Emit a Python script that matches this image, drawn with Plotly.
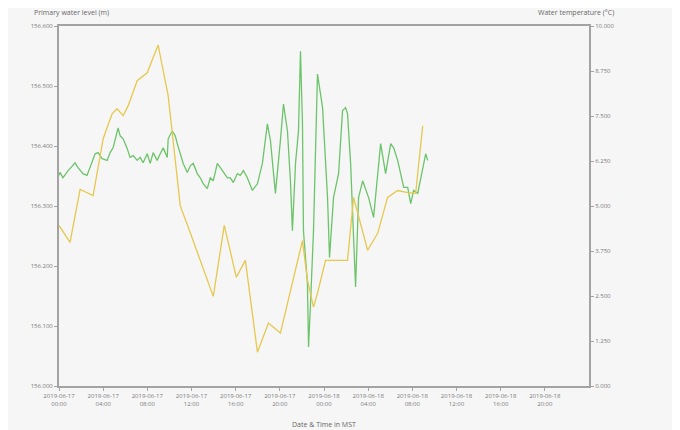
import pandas as pd
import plotly.graph_objects as go

START = pd.Timestamp("2019-06-17 00:00")

# Primary water level (m): hours since start, values
level_hours = [0.00, 0.09, 0.36, 0.82, 1.18, 1.45, 1.72, 2.18, 2.54, 2.81, 3.27, 3.54, 3.90, 4.36,
               4.63, 4.90, 5.26, 5.35, 5.54, 5.81, 6.17, 6.44, 6.72, 7.08, 7.35, 7.62, 7.99, 8.26,
               8.53, 8.89, 9.17, 9.44, 9.80, 9.89, 10.25, 10.53, 10.71, 10.98, 11.25, 11.62, 11.89,
               12.16, 12.52, 12.79, 13.07, 13.43, 13.70, 13.97, 14.34, 14.61, 14.88, 15.25, 15.52,
               15.79, 16.15, 16.42, 16.70, 17.06, 17.51, 17.97, 18.42, 18.87, 19.15, 19.60, 20.05,
               20.33, 20.69, 20.96, 21.14, 21.42, 21.69, 21.87, 22.05, 22.14, 22.50, 22.60, 22.78,
               23.05, 23.41, 23.87, 24.32, 24.50, 24.86, 25.32, 25.68, 25.95, 26.13, 26.41, 26.86,
               27.13, 27.50, 28.04, 28.49, 29.13, 29.58, 30.04, 30.31, 30.67, 31.22, 31.58, 31.85,
               32.12, 32.49, 32.94, 33.21, 33.39]
level_values = [156.351, 156.356, 156.347, 156.359, 156.366, 156.372, 156.364, 156.354, 156.351,
                156.364, 156.387, 156.389, 156.379, 156.376, 156.389, 156.397, 156.425, 156.430,
                156.417, 156.412, 156.396, 156.381, 156.384, 156.376, 156.381, 156.372, 156.387,
                156.371, 156.389, 156.376, 156.387, 156.397, 156.381, 156.412, 156.425, 156.417,
                156.404, 156.389, 156.371, 156.356, 156.367, 156.371, 156.354, 156.347, 156.337,
                156.329, 156.347, 156.342, 156.371, 156.364, 156.356, 156.347, 156.347, 156.339,
                156.354, 156.351, 156.359, 156.347, 156.326, 156.337, 156.371, 156.437, 156.409,
                156.321, 156.409, 156.470, 156.425, 156.342, 156.259, 156.371, 156.425, 156.558,
                156.437, 156.259, 156.171, 156.065, 156.138, 156.259, 156.520, 156.464, 156.314,
                156.214, 156.314, 156.354, 156.459, 156.464, 156.454, 156.371, 156.165, 156.314,
                156.342, 156.314, 156.281, 156.404, 156.354, 156.404, 156.397, 156.376, 156.331,
                156.331, 156.304, 156.326, 156.321, 156.359, 156.387, 156.376]

# Water temperature (°C): hours since start, values
temp_hours = [0.00, 1.00, 1.91, 3.09, 4.00, 4.81, 5.26, 5.81, 6.26, 7.08, 7.99, 8.98, 9.89, 10.98,
              11.98, 12.98, 13.97, 14.97, 16.06, 16.88, 17.97, 18.97, 20.05, 22.05, 22.50, 23.05,
              23.41, 24.14, 26.13, 26.68, 27.95, 28.86, 29.76, 30.67, 31.58, 32.30, 32.94]
temp_values = [4.46, 3.99, 5.46, 5.29, 6.87, 7.56, 7.70, 7.51, 7.78, 8.48, 8.70, 9.47, 8.06, 5.01,
               4.18, 3.32, 2.49, 4.46, 3.02, 3.49, 0.94, 1.75, 1.47, 4.04, 2.94, 2.19, 2.58, 3.49,
               3.49, 5.24, 3.77, 4.24, 5.24, 5.43, 5.37, 5.35, 7.23]

x_tick_vals = ["2019-06-17 00:00", "2019-06-17 04:00", "2019-06-17 08:00", "2019-06-17 12:00",
               "2019-06-17 16:00", "2019-06-17 20:00", "2019-06-18 00:00", "2019-06-18 04:00",
               "2019-06-18 08:00", "2019-06-18 12:00", "2019-06-18 16:00", "2019-06-18 20:00"]
x_tick_text = [v.replace(" ", "<br>") for v in x_tick_vals]
level_ticks = [156.0, 156.1, 156.2, 156.3, 156.4, 156.5, 156.6]
temp_ticks = [0, 1.25, 2.5, 3.75, 5, 6.25, 7.5, 8.75, 10]

level_t = START + pd.to_timedelta(level_hours, unit="h")
temp_t = START + pd.to_timedelta(temp_hours, unit="h")

FONT = "Open Sans"
TICKC = "#7a7a7a"
AXC = "#a3a3a3"

fig = go.Figure()
fig.add_trace(go.Scatter(x=level_t, y=level_values, mode="lines",
                         line=dict(color="#6cc46a", width=1.3), yaxis="y", showlegend=False))
fig.add_trace(go.Scatter(x=temp_t, y=temp_values, mode="lines",
                         line=dict(color="#e6c84e", width=1.3), yaxis="y2", showlegend=False))

x_range = ["2019-06-17 00:00", "2019-06-19 00:00"]
fig.update_layout(
    width=680, height=430,
    margin=dict(l=51, r=99, t=18, b=52),
    paper_bgcolor="#f6f6f6", plot_bgcolor="#f6f6f6",
    font=dict(family=FONT, size=6, color=TICKC),
    xaxis=dict(range=x_range, tickvals=x_tick_vals, ticktext=x_tick_text,
               showgrid=False, zeroline=False, showline=True, linecolor=AXC, linewidth=2,
               mirror=True, ticks="outside", ticklen=3, tickcolor=AXC,
               tickfont=dict(size=6, color=TICKC)),
    xaxis2=dict(range=x_range, overlaying="x", type="date", dtick=8 * 3600000,
                tick0="2019-06-17 00:00", showgrid=True, gridcolor="#ffffff", gridwidth=1.5,
                showticklabels=False, showline=False, zeroline=False),
    yaxis=dict(range=[156.0, 156.6], tickvals=level_ticks, tickformat=".3f",
               showgrid=False, zeroline=False, showline=True, linecolor=AXC, linewidth=2,
               ticks="outside", ticklen=3, tickcolor=AXC, tickfont=dict(size=6, color=TICKC)),
    yaxis2=dict(range=[0, 10], tickvals=temp_ticks, tickformat=".3f", overlaying="y",
                side="right", showgrid=False, zeroline=False, showline=True, linecolor=AXC,
                linewidth=2, ticks="outside", ticklen=3, tickcolor=AXC,
                tickfont=dict(size=6, color=TICKC)),
    annotations=[
        dict(text="Primary water level (m)", xref="paper", yref="paper", x=-0.051, y=1.0,
             yshift=7, xanchor="left", yanchor="bottom", showarrow=False,
             font=dict(size=7, color="#666666")),
        dict(text="Water temperature (°C)", xref="paper", yref="paper", x=1.05, y=1.0,
             yshift=7, xanchor="right", yanchor="bottom", showarrow=False,
             font=dict(size=7, color="#666666")),
        dict(text="Date & Time in MST", xref="paper", yref="paper", x=0.5, y=0,
             yshift=-32, xanchor="center", yanchor="top", showarrow=False,
             font=dict(size=7, color="#666666")),
    ],
)
fig.write_html("out.html")
